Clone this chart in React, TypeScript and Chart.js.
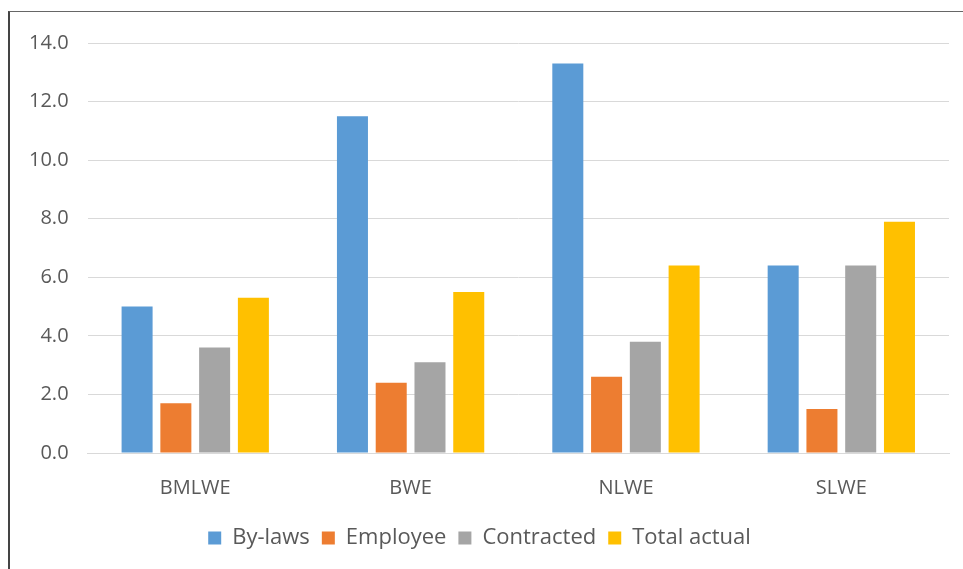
import React, { useEffect, useRef } from "react";
import { Chart, registerables } from "chart.js";
Chart.register(...registerables);

const categories = ["BMLWE", "BWE", "NLWE", "SLWE"];
const seriesNames = ["By-laws", "Employee", "Contracted", "Total actual"];
const byLaws = [5.0, 11.5, 13.3, 6.4];
const employee = [1.7, 2.4, 2.6, 1.5];
const contracted = [3.6, 3.1, 3.8, 6.4];
const totalActual = [5.3, 5.5, 6.4, 7.9];
const colors = ["#5B9BD5", "#ED7D31", "#A5A5A5", "#FFC000"];

export default function App() {
  const ref = useRef<HTMLCanvasElement | null>(null);
  useEffect(() => {
    if (!ref.current) return;
    const values = [byLaws, employee, contracted, totalActual];
    const family = "'Open Sans', 'Noto Sans', sans-serif";
    const font = { family, size: 20 };
    const chart = new Chart(ref.current, {
      type: "bar",
      data: {
        labels: categories,
        datasets: seriesNames.map((n, i) => ({
          label: n,
          data: values[i],
          backgroundColor: colors[i],
          borderWidth: 0,
          barPercentage: 0.8,
          categoryPercentage: 0.72,
        })),
      },
      options: {
        animation: false,
        responsive: false,
        layout: { padding: { left: 0, right: 14, top: 22, bottom: 10 } },
        plugins: {
          tooltip: { enabled: false },
          legend: {
            position: "bottom",
            labels: {
              color: "#595959",
              font: { family, size: 22 },
              boxWidth: 13,
              boxHeight: 13,
              padding: 12,
            },
          },
        },
        scales: {
          x: {
            grid: { display: false },
            border: { color: "#D9D9D9" },
            ticks: { color: "#595959", font, padding: 15 },
          },
          y: {
            min: 0,
            max: 14,
            border: { display: false },
            grid: { color: "#D9D9D9", drawTicks: false },
            ticks: {
              stepSize: 2,
              color: "#595959",
              font,
              padding: 19,
              callback: (v: any) => Number(v).toFixed(1),
            },
          },
        },
      },
    });
    return () => chart.destroy();
  }, []);
  return (
    <div
      style={{
        position: "absolute",
        left: 8,
        top: 11,
        width: 955,
        height: 558,
        borderLeft: "2px solid #444",
        borderTop: "1px solid #666",
        background: "#fff",
      }}
    >
      <canvas ref={ref} width={953} height={557} style={{ display: "block" }} />
    </div>
  );
}
